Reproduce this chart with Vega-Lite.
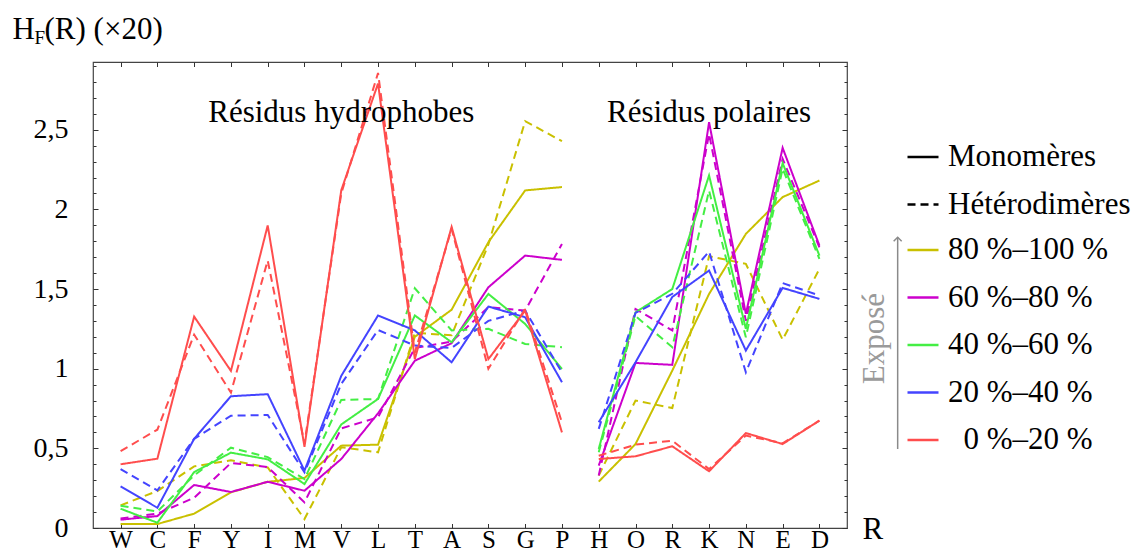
{
 "$schema": "https://vega.github.io/schema/vega-lite/v6.json",
 "width": 754,
 "height": 466,
 "autosize": {"type": "none"},
 "padding": {"left": 93, "top": 62, "right": 290, "bottom": 27},
 "background": "white",
 "config": {
  "font": "Liberation Serif",
  "view": {"stroke": "#444", "strokeWidth": 1.2},
  "axis": {"grid": false, "domain": false, "tickColor": "#333", "tickWidth": 1, "labelColor": "black", "labelFont": "Liberation Serif", "titleFont": "Liberation Serif", "titleFontWeight": "normal", "titleColor": "black", "labelOverlap": false},
  "legend": {"labelFont": "Liberation Serif", "labelColor": "black"}
 },
 "resolve": {"scale": {"x": "independent"}, "axis": {"x": "independent", "y": "independent"}},
 "data": {"values": [
  {"e":"80 %–100 %","t":"Monomères","g":"h","r":"W","v":0.025},
  {"e":"80 %–100 %","t":"Monomères","g":"h","r":"C","v":0.025},
  {"e":"80 %–100 %","t":"Monomères","g":"h","r":"F","v":0.09},
  {"e":"80 %–100 %","t":"Monomères","g":"h","r":"Y","v":0.224},
  {"e":"80 %–100 %","t":"Monomères","g":"h","r":"I","v":0.29},
  {"e":"80 %–100 %","t":"Monomères","g":"h","r":"M","v":0.314},
  {"e":"80 %–100 %","t":"Monomères","g":"h","r":"V","v":0.517},
  {"e":"80 %–100 %","t":"Monomères","g":"h","r":"L","v":0.523},
  {"e":"80 %–100 %","t":"Monomères","g":"h","r":"T","v":1.2},
  {"e":"80 %–100 %","t":"Monomères","g":"h","r":"A","v":1.37},
  {"e":"80 %–100 %","t":"Monomères","g":"h","r":"S","v":1.794},
  {"e":"80 %–100 %","t":"Monomères","g":"h","r":"G","v":2.119},
  {"e":"80 %–100 %","t":"Monomères","g":"h","r":"P","v":2.14},
  {"e":"80 %–100 %","t":"Monomères","g":"p","r":"H","v":0.291},
  {"e":"80 %–100 %","t":"Monomères","g":"p","r":"O","v":0.527},
  {"e":"80 %–100 %","t":"Monomères","g":"p","r":"R","v":0.988},
  {"e":"80 %–100 %","t":"Monomères","g":"p","r":"K","v":1.469},
  {"e":"80 %–100 %","t":"Monomères","g":"p","r":"N","v":1.846},
  {"e":"80 %–100 %","t":"Monomères","g":"p","r":"E","v":2.077},
  {"e":"80 %–100 %","t":"Monomères","g":"p","r":"D","v":2.181},
  {"e":"80 %–100 %","t":"Hétérodimères","g":"h","r":"W","v":0.142},
  {"e":"80 %–100 %","t":"Hétérodimères","g":"h","r":"C","v":0.232},
  {"e":"80 %–100 %","t":"Hétérodimères","g":"h","r":"F","v":0.387},
  {"e":"80 %–100 %","t":"Hétérodimères","g":"h","r":"Y","v":0.425},
  {"e":"80 %–100 %","t":"Hétérodimères","g":"h","r":"I","v":0.38},
  {"e":"80 %–100 %","t":"Hétérodimères","g":"h","r":"M","v":0.056},
  {"e":"80 %–100 %","t":"Hétérodimères","g":"h","r":"V","v":0.507},
  {"e":"80 %–100 %","t":"Hétérodimères","g":"h","r":"L","v":0.475},
  {"e":"80 %–100 %","t":"Hétérodimères","g":"h","r":"T","v":1.225},
  {"e":"80 %–100 %","t":"Hétérodimères","g":"h","r":"A","v":1.21},
  {"e":"80 %–100 %","t":"Hétérodimères","g":"h","r":"S","v":1.78},
  {"e":"80 %–100 %","t":"Hétérodimères","g":"h","r":"G","v":2.554},
  {"e":"80 %–100 %","t":"Hétérodimères","g":"h","r":"P","v":2.428},
  {"e":"80 %–100 %","t":"Hétérodimères","g":"p","r":"H","v":0.329},
  {"e":"80 %–100 %","t":"Hétérodimères","g":"p","r":"O","v":0.8},
  {"e":"80 %–100 %","t":"Hétérodimères","g":"p","r":"R","v":0.753},
  {"e":"80 %–100 %","t":"Hétérodimères","g":"p","r":"K","v":1.706},
  {"e":"80 %–100 %","t":"Hétérodimères","g":"p","r":"N","v":1.658},
  {"e":"80 %–100 %","t":"Hétérodimères","g":"p","r":"E","v":1.182},
  {"e":"80 %–100 %","t":"Hétérodimères","g":"p","r":"D","v":1.626},
  {"e":"60 %–80 %","t":"Monomères","g":"h","r":"W","v":0.052},
  {"e":"60 %–80 %","t":"Monomères","g":"h","r":"C","v":0.075},
  {"e":"60 %–80 %","t":"Monomères","g":"h","r":"F","v":0.27},
  {"e":"60 %–80 %","t":"Monomères","g":"h","r":"Y","v":0.226},
  {"e":"60 %–80 %","t":"Monomères","g":"h","r":"I","v":0.29},
  {"e":"60 %–80 %","t":"Monomères","g":"h","r":"M","v":0.234},
  {"e":"60 %–80 %","t":"Monomères","g":"h","r":"V","v":0.433},
  {"e":"60 %–80 %","t":"Monomères","g":"h","r":"L","v":0.72},
  {"e":"60 %–80 %","t":"Monomères","g":"h","r":"T","v":1.05},
  {"e":"60 %–80 %","t":"Monomères","g":"h","r":"A","v":1.16},
  {"e":"60 %–80 %","t":"Monomères","g":"h","r":"S","v":1.511},
  {"e":"60 %–80 %","t":"Monomères","g":"h","r":"G","v":1.71},
  {"e":"60 %–80 %","t":"Monomères","g":"h","r":"P","v":1.683},
  {"e":"60 %–80 %","t":"Monomères","g":"p","r":"H","v":0.392},
  {"e":"60 %–80 %","t":"Monomères","g":"p","r":"O","v":1.036},
  {"e":"60 %–80 %","t":"Monomères","g":"p","r":"R","v":1.024},
  {"e":"60 %–80 %","t":"Monomères","g":"p","r":"K","v":2.547},
  {"e":"60 %–80 %","t":"Monomères","g":"p","r":"N","v":1.344},
  {"e":"60 %–80 %","t":"Monomères","g":"p","r":"E","v":2.386},
  {"e":"60 %–80 %","t":"Monomères","g":"p","r":"D","v":1.773},
  {"e":"60 %–80 %","t":"Hétérodimères","g":"h","r":"W","v":0.06},
  {"e":"60 %–80 %","t":"Hétérodimères","g":"h","r":"C","v":0.09},
  {"e":"60 %–80 %","t":"Hétérodimères","g":"h","r":"F","v":0.19},
  {"e":"60 %–80 %","t":"Hétérodimères","g":"h","r":"Y","v":0.408},
  {"e":"60 %–80 %","t":"Hétérodimères","g":"h","r":"I","v":0.383},
  {"e":"60 %–80 %","t":"Hétérodimères","g":"h","r":"M","v":0.161},
  {"e":"60 %–80 %","t":"Hétérodimères","g":"h","r":"V","v":0.625},
  {"e":"60 %–80 %","t":"Hétérodimères","g":"h","r":"L","v":0.695},
  {"e":"60 %–80 %","t":"Hétérodimères","g":"h","r":"T","v":1.13},
  {"e":"60 %–80 %","t":"Hétérodimères","g":"h","r":"A","v":1.17},
  {"e":"60 %–80 %","t":"Hétérodimères","g":"h","r":"S","v":1.386},
  {"e":"60 %–80 %","t":"Hétérodimères","g":"h","r":"G","v":1.365},
  {"e":"60 %–80 %","t":"Hétérodimères","g":"h","r":"P","v":1.783},
  {"e":"60 %–80 %","t":"Hétérodimères","g":"p","r":"H","v":0.329},
  {"e":"60 %–80 %","t":"Hétérodimères","g":"p","r":"O","v":1.375},
  {"e":"60 %–80 %","t":"Hétérodimères","g":"p","r":"R","v":1.24},
  {"e":"60 %–80 %","t":"Hétérodimères","g":"p","r":"K","v":2.474},
  {"e":"60 %–80 %","t":"Hétérodimères","g":"p","r":"N","v":1.3},
  {"e":"60 %–80 %","t":"Hétérodimères","g":"p","r":"E","v":2.317},
  {"e":"60 %–80 %","t":"Hétérodimères","g":"p","r":"D","v":1.762},
  {"e":"40 %–60 %","t":"Monomères","g":"h","r":"W","v":0.121},
  {"e":"40 %–60 %","t":"Monomères","g":"h","r":"C","v":0.033},
  {"e":"40 %–60 %","t":"Monomères","g":"h","r":"F","v":0.351},
  {"e":"40 %–60 %","t":"Monomères","g":"h","r":"Y","v":0.473},
  {"e":"40 %–60 %","t":"Monomères","g":"h","r":"I","v":0.431},
  {"e":"40 %–60 %","t":"Monomères","g":"h","r":"M","v":0.276},
  {"e":"40 %–60 %","t":"Monomères","g":"h","r":"V","v":0.65},
  {"e":"40 %–60 %","t":"Monomères","g":"h","r":"L","v":0.81},
  {"e":"40 %–60 %","t":"Monomères","g":"h","r":"T","v":1.334},
  {"e":"40 %–60 %","t":"Monomères","g":"h","r":"A","v":1.166},
  {"e":"40 %–60 %","t":"Monomères","g":"h","r":"S","v":1.469},
  {"e":"40 %–60 %","t":"Monomères","g":"h","r":"G","v":1.281},
  {"e":"40 %–60 %","t":"Monomères","g":"h","r":"P","v":0.998},
  {"e":"40 %–60 %","t":"Monomères","g":"p","r":"H","v":0.496},
  {"e":"40 %–60 %","t":"Monomères","g":"p","r":"O","v":1.354},
  {"e":"40 %–60 %","t":"Monomères","g":"p","r":"R","v":1.5},
  {"e":"40 %–60 %","t":"Monomères","g":"p","r":"K","v":2.213},
  {"e":"40 %–60 %","t":"Monomères","g":"p","r":"N","v":1.25},
  {"e":"40 %–60 %","t":"Monomères","g":"p","r":"E","v":2.29},
  {"e":"40 %–60 %","t":"Monomères","g":"p","r":"D","v":1.71},
  {"e":"40 %–60 %","t":"Hétérodimères","g":"h","r":"W","v":0.14},
  {"e":"40 %–60 %","t":"Hétérodimères","g":"h","r":"C","v":0.104},
  {"e":"40 %–60 %","t":"Hétérodimères","g":"h","r":"F","v":0.33},
  {"e":"40 %–60 %","t":"Hétérodimères","g":"h","r":"Y","v":0.504},
  {"e":"40 %–60 %","t":"Hétérodimères","g":"h","r":"I","v":0.445},
  {"e":"40 %–60 %","t":"Hétérodimères","g":"h","r":"M","v":0.307},
  {"e":"40 %–60 %","t":"Hétérodimères","g":"h","r":"V","v":0.804},
  {"e":"40 %–60 %","t":"Hétérodimères","g":"h","r":"L","v":0.81},
  {"e":"40 %–60 %","t":"Hétérodimères","g":"h","r":"T","v":1.505},
  {"e":"40 %–60 %","t":"Hétérodimères","g":"h","r":"A","v":1.24},
  {"e":"40 %–60 %","t":"Hétérodimères","g":"h","r":"S","v":1.25},
  {"e":"40 %–60 %","t":"Hétérodimères","g":"h","r":"G","v":1.155},
  {"e":"40 %–60 %","t":"Hétérodimères","g":"h","r":"P","v":1.135},
  {"e":"40 %–60 %","t":"Hétérodimères","g":"p","r":"H","v":0.475},
  {"e":"40 %–60 %","t":"Hétérodimères","g":"p","r":"O","v":1.33},
  {"e":"40 %–60 %","t":"Hétérodimères","g":"p","r":"R","v":1.135},
  {"e":"40 %–60 %","t":"Hétérodimères","g":"p","r":"K","v":2.118},
  {"e":"40 %–60 %","t":"Hétérodimères","g":"p","r":"N","v":1.197},
  {"e":"40 %–60 %","t":"Hétérodimères","g":"p","r":"E","v":2.255},
  {"e":"40 %–60 %","t":"Hétérodimères","g":"p","r":"D","v":1.689},
  {"e":"20 %–40 %","t":"Monomères","g":"h","r":"W","v":0.261},
  {"e":"20 %–40 %","t":"Monomères","g":"h","r":"C","v":0.127},
  {"e":"20 %–40 %","t":"Monomères","g":"h","r":"F","v":0.56},
  {"e":"20 %–40 %","t":"Monomères","g":"h","r":"Y","v":0.827},
  {"e":"20 %–40 %","t":"Monomères","g":"h","r":"I","v":0.84},
  {"e":"20 %–40 %","t":"Monomères","g":"h","r":"M","v":0.36},
  {"e":"20 %–40 %","t":"Monomères","g":"h","r":"V","v":0.955},
  {"e":"20 %–40 %","t":"Monomères","g":"h","r":"L","v":1.334},
  {"e":"20 %–40 %","t":"Monomères","g":"h","r":"T","v":1.24},
  {"e":"20 %–40 %","t":"Monomères","g":"h","r":"A","v":1.04},
  {"e":"20 %–40 %","t":"Monomères","g":"h","r":"S","v":1.39},
  {"e":"20 %–40 %","t":"Monomères","g":"h","r":"G","v":1.323},
  {"e":"20 %–40 %","t":"Monomères","g":"h","r":"P","v":0.915},
  {"e":"20 %–40 %","t":"Monomères","g":"p","r":"H","v":0.664},
  {"e":"20 %–40 %","t":"Monomères","g":"p","r":"O","v":1.04},
  {"e":"20 %–40 %","t":"Monomères","g":"p","r":"R","v":1.45},
  {"e":"20 %–40 %","t":"Monomères","g":"p","r":"K","v":1.616},
  {"e":"20 %–40 %","t":"Monomères","g":"p","r":"N","v":1.114},
  {"e":"20 %–40 %","t":"Monomères","g":"p","r":"E","v":1.507},
  {"e":"20 %–40 %","t":"Monomères","g":"p","r":"D","v":1.438},
  {"e":"20 %–40 %","t":"Hétérodimères","g":"h","r":"W","v":0.37},
  {"e":"20 %–40 %","t":"Hétérodimères","g":"h","r":"C","v":0.236},
  {"e":"20 %–40 %","t":"Hétérodimères","g":"h","r":"F","v":0.56},
  {"e":"20 %–40 %","t":"Hétérodimères","g":"h","r":"Y","v":0.705},
  {"e":"20 %–40 %","t":"Hétérodimères","g":"h","r":"I","v":0.709},
  {"e":"20 %–40 %","t":"Hétérodimères","g":"h","r":"M","v":0.349},
  {"e":"20 %–40 %","t":"Hétérodimères","g":"h","r":"V","v":0.904},
  {"e":"20 %–40 %","t":"Hétérodimères","g":"h","r":"L","v":1.243},
  {"e":"20 %–40 %","t":"Hétérodimères","g":"h","r":"T","v":1.145},
  {"e":"20 %–40 %","t":"Hétérodimères","g":"h","r":"A","v":1.13},
  {"e":"20 %–40 %","t":"Hétérodimères","g":"h","r":"S","v":1.3},
  {"e":"20 %–40 %","t":"Hétérodimères","g":"h","r":"G","v":1.365},
  {"e":"20 %–40 %","t":"Hétérodimères","g":"h","r":"P","v":0.977},
  {"e":"20 %–40 %","t":"Hétérodimères","g":"p","r":"H","v":0.622},
  {"e":"20 %–40 %","t":"Hétérodimères","g":"p","r":"O","v":1.35},
  {"e":"20 %–40 %","t":"Hétérodimères","g":"p","r":"R","v":1.47},
  {"e":"20 %–40 %","t":"Hétérodimères","g":"p","r":"K","v":1.735},
  {"e":"20 %–40 %","t":"Hétérodimères","g":"p","r":"N","v":0.977},
  {"e":"20 %–40 %","t":"Hétérodimères","g":"p","r":"E","v":1.537},
  {"e":"20 %–40 %","t":"Hétérodimères","g":"p","r":"D","v":1.46},
  {"e":"\u200b\u00a0\u00a00 %–20 %","t":"Monomères","g":"h","r":"W","v":0.4},
  {"e":"\u200b\u00a0\u00a00 %–20 %","t":"Monomères","g":"h","r":"C","v":0.435},
  {"e":"\u200b\u00a0\u00a00 %–20 %","t":"Monomères","g":"h","r":"F","v":1.327},
  {"e":"\u200b\u00a0\u00a00 %–20 %","t":"Monomères","g":"h","r":"Y","v":0.986},
  {"e":"\u200b\u00a0\u00a00 %–20 %","t":"Monomères","g":"h","r":"I","v":1.899},
  {"e":"\u200b\u00a0\u00a00 %–20 %","t":"Monomères","g":"h","r":"M","v":0.51},
  {"e":"\u200b\u00a0\u00a00 %–20 %","t":"Monomères","g":"h","r":"V","v":2.12},
  {"e":"\u200b\u00a0\u00a00 %–20 %","t":"Monomères","g":"h","r":"L","v":2.79},
  {"e":"\u200b\u00a0\u00a00 %–20 %","t":"Monomères","g":"h","r":"T","v":1.06},
  {"e":"\u200b\u00a0\u00a00 %–20 %","t":"Monomères","g":"h","r":"A","v":1.89},
  {"e":"\u200b\u00a0\u00a00 %–20 %","t":"Monomères","g":"h","r":"S","v":1.06},
  {"e":"\u200b\u00a0\u00a00 %–20 %","t":"Monomères","g":"h","r":"G","v":1.365},
  {"e":"\u200b\u00a0\u00a00 %–20 %","t":"Monomères","g":"h","r":"P","v":0.6},
  {"e":"\u200b\u00a0\u00a00 %–20 %","t":"Monomères","g":"p","r":"H","v":0.433},
  {"e":"\u200b\u00a0\u00a00 %–20 %","t":"Monomères","g":"p","r":"O","v":0.45},
  {"e":"\u200b\u00a0\u00a00 %–20 %","t":"Monomères","g":"p","r":"R","v":0.513},
  {"e":"\u200b\u00a0\u00a00 %–20 %","t":"Monomères","g":"p","r":"K","v":0.356},
  {"e":"\u200b\u00a0\u00a00 %–20 %","t":"Monomères","g":"p","r":"N","v":0.596},
  {"e":"\u200b\u00a0\u00a00 %–20 %","t":"Monomères","g":"p","r":"E","v":0.527},
  {"e":"\u200b\u00a0\u00a00 %–20 %","t":"Monomères","g":"p","r":"D","v":0.674},
  {"e":"\u200b\u00a0\u00a00 %–20 %","t":"Hétérodimères","g":"h","r":"W","v":0.483},
  {"e":"\u200b\u00a0\u00a00 %–20 %","t":"Hétérodimères","g":"h","r":"C","v":0.617},
  {"e":"\u200b\u00a0\u00a00 %–20 %","t":"Hétérodimères","g":"h","r":"F","v":1.214},
  {"e":"\u200b\u00a0\u00a00 %–20 %","t":"Hétérodimères","g":"h","r":"Y","v":0.85},
  {"e":"\u200b\u00a0\u00a00 %–20 %","t":"Hétérodimères","g":"h","r":"I","v":1.679},
  {"e":"\u200b\u00a0\u00a00 %–20 %","t":"Hétérodimères","g":"h","r":"M","v":0.53},
  {"e":"\u200b\u00a0\u00a00 %–20 %","t":"Hétérodimères","g":"h","r":"V","v":2.1},
  {"e":"\u200b\u00a0\u00a00 %–20 %","t":"Hétérodimères","g":"h","r":"L","v":2.856},
  {"e":"\u200b\u00a0\u00a00 %–20 %","t":"Hétérodimères","g":"h","r":"T","v":1.1},
  {"e":"\u200b\u00a0\u00a00 %–20 %","t":"Hétérodimères","g":"h","r":"A","v":1.878},
  {"e":"\u200b\u00a0\u00a00 %–20 %","t":"Hétérodimères","g":"h","r":"S","v":0.999},
  {"e":"\u200b\u00a0\u00a00 %–20 %","t":"Hétérodimères","g":"h","r":"G","v":1.376},
  {"e":"\u200b\u00a0\u00a00 %–20 %","t":"Hétérodimères","g":"h","r":"P","v":0.663},
  {"e":"\u200b\u00a0\u00a00 %–20 %","t":"Hétérodimères","g":"p","r":"H","v":0.454},
  {"e":"\u200b\u00a0\u00a00 %–20 %","t":"Hétérodimères","g":"p","r":"O","v":0.523},
  {"e":"\u200b\u00a0\u00a00 %–20 %","t":"Hétérodimères","g":"p","r":"R","v":0.548},
  {"e":"\u200b\u00a0\u00a00 %–20 %","t":"Hétérodimères","g":"p","r":"K","v":0.37},
  {"e":"\u200b\u00a0\u00a00 %–20 %","t":"Hétérodimères","g":"p","r":"N","v":0.58},
  {"e":"\u200b\u00a0\u00a00 %–20 %","t":"Hétérodimères","g":"p","r":"E","v":0.532},
  {"e":"\u200b\u00a0\u00a00 %–20 %","t":"Hétérodimères","g":"p","r":"D","v":0.674}
 ]},
 "layer": [
  {
   "mark": {"type": "line", "strokeWidth": 2},
   "encoding": {
    "x": {"field": "r", "type": "nominal",
     "scale": {"type": "point", "padding": 0.75, "domain": ["W","C","F","Y","I","M","V","L","T","A","S","G","P","H","O","R","K","N","E","D"]},
     "axis": {"orient": "bottom", "labelAngle": 0, "labelFontSize": 25, "tickSize": -4.5, "labelPadding": 4, "title": "R", "titleAngle": 0, "titleX": 769, "titleY": 10, "titleAlign": "left", "titleBaseline": "alphabetic", "titleFontSize": 31}},
    "y": {"field": "v", "type": "quantitative",
     "scale": {"domain": [0, 2.925], "nice": false, "zero": false},
     "axis": {"orient": "left", "values": [0, 0.5, 1, 1.5, 2, 2.5], "labelExpr": "replace(toString(datum.value), '.', ',')", "labelFontSize": 28, "tickSize": -5, "labelPadding": 30, "title": "H", "titleAngle": 0, "titleX": -81, "titleY": -24, "titleAlign": "left", "titleBaseline": "alphabetic", "titleFontSize": 31}},
    "color": {"field": "e", "type": "nominal",
     "scale": {"domain": ["80 %–100 %", "60 %–80 %", "40 %–60 %", "20 %–40 %", "\u200b\u00a0\u00a00 %–20 %"], "range": ["#c9c000", "#cc00cc", "#44ee44", "#4444ff", "#ff4d4d"]},
     "legend": {"orient": "none", "direction": "vertical", "legendX": 813, "legendY": 171, "title": null, "padding": 0, "symbolType": "stroke", "symbolSize": 961, "symbolStrokeWidth": 2.5, "labelFontSize": 31, "labelOffset": 8, "rowPadding": 15.5, "labelLimit": 300}},
    "strokeDash": {"field": "t", "type": "nominal",
     "scale": {"domain": ["Monomères", "Hétérodimères"], "range": [[1, 0], [8, 5]]},
     "legend": {"orient": "none", "direction": "vertical", "legendX": 813, "legendY": 78, "title": null, "padding": 0, "symbolType": "stroke", "symbolSize": 961, "symbolStrokeWidth": 2.5, "symbolStrokeColor": "black", "labelFontSize": 31, "labelOffset": 8, "rowPadding": 15.5, "labelLimit": 300, "symbolDash": [7, 5]}},
    "detail": {"field": "g", "type": "nominal"},
    "order": {"value": null}
   }
  },
  {
   "mark": {"type": "point", "opacity": 0, "size": 0},
   "encoding": {
    "x": {"field": "r", "type": "nominal",
     "scale": {"type": "point", "padding": 0.75, "domain": ["W","C","F","Y","I","M","V","L","T","A","S","G","P","H","O","R","K","N","E","D"]},
     "axis": {"orient": "top", "labels": false, "tickSize": -4.5, "title": null}},
    "y": {"field": "v", "type": "quantitative",
     "scale": {"domain": [0, 2.925], "nice": false, "zero": false},
     "axis": {"orient": "left", "values": [0.1,0.2,0.3,0.4,0.6,0.7,0.8,0.9,1.1,1.2,1.3,1.4,1.6,1.7,1.8,1.9,2.1,2.2,2.3,2.4,2.6,2.7,2.8,2.9], "labels": false, "tickSize": -3, "title": "F", "titleAngle": 0, "titleX": -59, "titleY": -19, "titleAlign": "left", "titleBaseline": "alphabetic", "titleFontSize": 19}}
   }
  },
  {
   "mark": {"type": "point", "opacity": 0, "size": 0},
   "encoding": {
    "x": {"field": "r", "type": "nominal",
     "scale": {"type": "point", "padding": 0.75, "domain": ["W","C","F","Y","I","M","V","L","T","A","S","G","P","H","O","R","K","N","E","D"]},
     "axis": null},
    "y": {"field": "v", "type": "quantitative",
     "scale": {"domain": [0, 2.925], "nice": false, "zero": false},
     "axis": {"orient": "right", "values": [0, 0.5, 1, 1.5, 2, 2.5], "labels": false, "tickSize": -5, "title": "(R) (×20)", "titleAngle": 0, "titleX": -803, "titleY": -24, "titleAlign": "left", "titleBaseline": "alphabetic", "titleFontSize": 31}}
   }
  },
  {
   "mark": {"type": "point", "opacity": 0, "size": 0},
   "encoding": {
    "x": {"field": "r", "type": "nominal",
     "scale": {"type": "point", "padding": 0.75, "domain": ["W","C","F","Y","I","M","V","L","T","A","S","G","P","H","O","R","K","N","E","D"]},
     "axis": null},
    "y": {"field": "v", "type": "quantitative",
     "scale": {"domain": [0, 2.925], "nice": false, "zero": false},
     "axis": {"orient": "right", "values": [0.1,0.2,0.3,0.4,0.6,0.7,0.8,0.9,1.1,1.2,1.3,1.4,1.6,1.7,1.8,1.9,2.1,2.2,2.3,2.4,2.6,2.7,2.8,2.9], "labels": false, "tickSize": -3, "title": null}}
   }
  },
  {
   "data": {"values": [{}]},
   "mark": {"type": "text", "fontSize": 31, "align": "center", "baseline": "alphabetic", "color": "black"},
   "encoding": {
    "x": {"datum": "V", "type": "nominal",
     "scale": {"type": "point", "padding": 0.75, "domain": ["W","C","F","Y","I","M","V","L","T","A","S","G","P","H","O","R","K","N","E","D"]},
     "axis": null},
    "y": {"datum": 2.551, "type": "quantitative", "scale": {"domain": [0, 2.925], "nice": false, "zero": false}, "axis": null},
    "text": {"value": "Résidus hydrophobes"}
   }
  },
  {
   "data": {"values": [{}]},
   "mark": {"type": "text", "fontSize": 31, "align": "center", "baseline": "alphabetic", "color": "black"},
   "encoding": {
    "x": {"datum": "K", "type": "nominal",
     "scale": {"type": "point", "padding": 0.75, "domain": ["W","C","F","Y","I","M","V","L","T","A","S","G","P","H","O","R","K","N","E","D"]},
     "axis": null},
    "y": {"datum": 2.551, "type": "quantitative", "scale": {"domain": [0, 2.925], "nice": false, "zero": false}, "axis": null},
    "text": {"value": "Résidus polaires"}
   }
  },
  {
   "data": {"values": [{}]},
   "mark": {"type": "rule", "color": "#8a8a8a", "strokeWidth": 1.5},
   "encoding": {
    "x": {"datum": 1.0672, "type": "quantitative", "scale": {"domain": [0, 1], "nice": false, "zero": false}, "axis": null},
    "y": {"datum": 0.496, "type": "quantitative", "scale": {"domain": [0, 2.925], "nice": false, "zero": false}, "axis": null},
    "y2": {"datum": 1.825}
   }
  },
  {
   "data": {"values": [{}]},
   "mark": {"type": "point", "shape": "M-1,1L0,0L1,1", "filled": false, "stroke": "#8a8a8a", "strokeWidth": 1.5, "size": 64, "opacity": 1},
   "encoding": {
    "x": {"datum": 1.0672, "type": "quantitative", "scale": {"domain": [0, 1], "nice": false, "zero": false}, "axis": null},
    "y": {"datum": 1.825, "type": "quantitative", "scale": {"domain": [0, 2.925], "nice": false, "zero": false}, "axis": null}
   }
  },
  {
   "data": {"values": [{}]},
   "mark": {"type": "text", "fontSize": 31, "angle": 270, "align": "center", "baseline": "middle", "color": "#9a9a9a"},
   "encoding": {
    "x": {"datum": 1.0371, "type": "quantitative", "scale": {"domain": [0, 1], "nice": false, "zero": false}, "axis": null},
    "y": {"datum": 1.189, "type": "quantitative", "scale": {"domain": [0, 2.925], "nice": false, "zero": false}, "axis": null},
    "text": {"value": "Exposé"}
   }
  }
 ]
}
